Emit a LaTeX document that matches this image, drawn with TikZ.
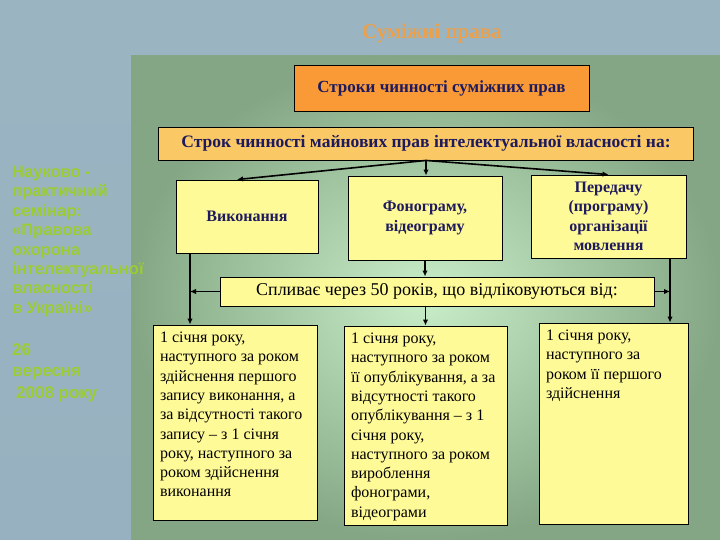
\documentclass[tikz,border=0pt]{standalone}
\usepackage{fontspec}
\setmainfont{Liberation Serif}
\setsansfont{Liberation Sans}
\usepackage{tikz}
\usetikzlibrary{arrows.meta,positioning,calc}
\definecolor{bandblue}{HTML}{9AB4C2}
\definecolor{sidelight}{HTML}{C4E2F4}
\definecolor{sidedark}{HTML}{97B1C0}
\definecolor{panelin}{HTML}{C8EEC8}
\definecolor{panelout}{HTML}{84A684}
\definecolor{boxorange}{HTML}{FA9A36}
\definecolor{boxpeach}{HTML}{FAC864}
\definecolor{boxyellow}{HTML}{FFFA98}
\definecolor{navytext}{HTML}{1E1A5E}
\definecolor{seminargreen}{HTML}{9ACD32}
\definecolor{titleorange}{HTML}{EDA048}
\tikzset{
  headbox/.style={draw=black, line width=0.9pt, fill=boxorange, align=center, inner sep=3pt, text=navytext, font=\fontsize{17}{20}\selectfont\bfseries},
  subbox/.style={draw=black, line width=0.9pt, fill=boxpeach, align=center, inner sep=3pt, text=navytext, font=\fontsize{17.5}{20}\selectfont\bfseries},
  kindbox/.style={draw=black, line width=0.9pt, fill=boxyellow, align=center, inner sep=3pt, text=navytext, font=\fontsize{16}{19.5}\selectfont\bfseries},
  termbox/.style={draw=black, line width=0.9pt, fill=boxyellow, align=center, inner sep=3pt, font=\fontsize{18}{20}\selectfont},
  notebox/.style={draw=black, line width=0.9pt, fill=boxyellow, inner sep=7pt, font=\fontsize{16}{19.3}\selectfont},
  sidetext/.style={align=left, inner sep=0pt, text=seminargreen},
  arrow/.style={-{Latex[length=6pt,width=5.5pt]}, line width=1.6pt}
}
\newcommand{\notepar}[3]{\parbox[c][#1][t]{#2}{\raggedright #3}}

\begin{document}
\begin{tikzpicture}[x=1pt,y=-1pt]
\useasboundingbox (0,0) rectangle (720,540);
% background
\fill[bandblue] (0,0) rectangle (720,540);
\shade[top color=bandblue, middle color=sidelight, bottom color=sidedark] (0,40) rectangle (131,540);
\shade[inner color=panelin, outer color=panelout] (131,56) rectangle (720,540);
\node[font=\fontsize{21}{24}\selectfont\bfseries, text=titleorange] (title) at (432,33) {Суміжні права};

% left column
\node[sidetext, anchor=north west, font=\sffamily\bfseries\fontsize{16.5}{19.4}\selectfont] (seminar) at (12,166)
  {Науково -\\практичний\\семінар:\\«Правова\\охорона\\інтелектуальної\\власності\\в Україні»};
\node[sidetext, font=\sffamily\bfseries\fontsize{17}{21.5}\selectfont, below=26pt of seminar.south west, anchor=north west] (date)
  {26\\вересня\\\hspace{4pt}2008 року};

% boxes
\node[headbox, minimum width=295pt, minimum height=46pt] (rights) at (441.5,88) {Строки чинності суміжних прав};
\node[subbox, minimum width=535pt, minimum height=33pt] (term) at (426,143.5) {Строк чинності майнових прав інтелектуальної власності на:};
\node[kindbox, minimum width=142pt, minimum height=73pt] (perf) at (247,216.5) {Виконання};
\node[kindbox, minimum width=154pt, minimum height=84pt] (phono) at (425,218) {Фонограму,\\відеограму};
\node[kindbox, minimum width=155pt, minimum height=83pt] (bcast) at (608.5,216.5) {Передачу\\(програму)\\організації\\мовлення};
\node[termbox, minimum width=434pt, minimum height=29pt] (expire) at (437,291.5) {Спливає через 50 років, що відліковуються від:};
\node[notebox] (fromperf) at (235,422.5) {\notepar{181pt}{150pt}{1 січня року,\\наступного за роком\\здійснення першого\\запису виконання, а\\за відсутності такого\\запису – з 1 січня\\року, наступного за\\роком здійснення\\виконання}};
\node[notebox] (fromphono) at (425.5,425.5) {\notepar{185pt}{149pt}{1 січня року,\\наступного за роком\\її опублікування, а за\\відсутності такого\\опублікування – з 1\\січня року,\\наступного за роком\\вироблення\\фонограми,\\відеограми}};
\node[notebox] (frombcast) at (613.5,423.5) {\notepar{187pt}{135pt}{1 січня року,\\наступного за\\роком її першого\\здійснення}};

% connectors
\coordinate (lbus) at (190,0);
\coordinate (rbus) at (670,0);
\draw[arrow] (term.south) -- ([xshift=-10pt]perf.north);
\draw[arrow] (term.south) -- (term.south |- phono.north);
\draw[arrow] (term.south) -- (bcast.north);
\draw[arrow] (phono.south) -- (phono.south |- expire.north);
\draw[arrow] (expire.south -| fromphono.north) -- (fromphono.north);
\draw[arrow] (perf.south -| lbus) -- (fromperf.north -| lbus);
\draw[arrow] (bcast.south -| rbus) -- (frombcast.north -| rbus);
\draw[arrow] (expire.west) -- (expire.west -| lbus);
\draw[arrow] (expire.east) -- (expire.east -| rbus);
\end{tikzpicture}
\end{document}
